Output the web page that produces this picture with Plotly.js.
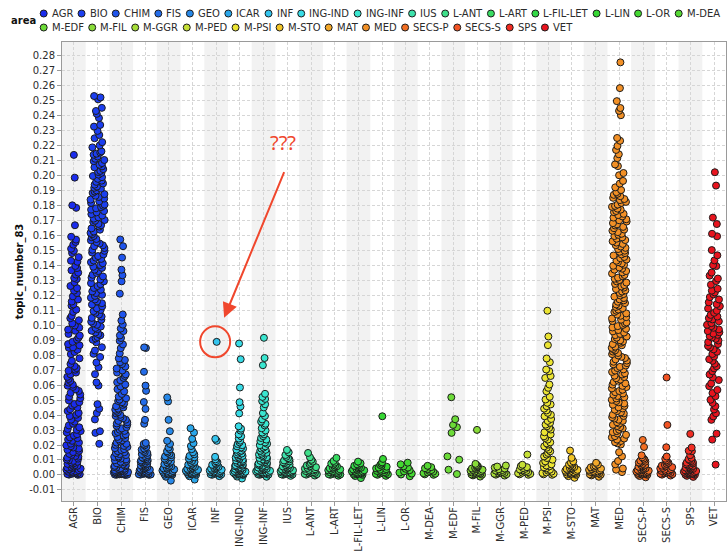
<!DOCTYPE html>
<html>
<head>
<meta charset="utf-8">
<script src="https://cdn.plot.ly/plotly-3.0.1.min.js"></script>
<style>
  html, body { margin: 0; padding: 0; background: #fff; }
  #chart { width: 728px; height: 552px; }
</style>
</head>
<body>
<div id="chart"></div>
<script>
// Scientific areas on the x axis, in display order
const areas = ['AGR','BIO','CHIM','FIS','GEO','ICAR','INF','ING-IND','ING-INF','IUS','L-ANT','L-ART','L-FIL-LET','L-LIN','L-OR','M-DEA','M-EDF','M-FIL','M-GGR','M-PED','M-PSI','M-STO','MAT','MED','SECS-P','SECS-S','SPS','VET'];

const areaColors = ['#1a2ced','#1c3ff0','#1f54ec','#246ce8','#2788e8','#2aa6ea','#33c4ee','#38dbe6','#3ae6d0','#3ee2ac','#3ee08a','#38dc62','#32d946','#36d834','#44d832','#56d834','#6cdb38','#88dc38','#a6de38','#c6e036','#ebe432','#f2c526','#f2a82a','#f29026','#f26e22','#f25424','#f02c22','#e8141e'];

// topic_number_83 per document, grouped by area
const agr = [0.2138,0.1986,0.1801,0.1784,0.1668,0.1591,0.1572,0.1556,0.1538,0.1511,0.1497,0.1482,0.1455,0.1431,0.1424,0.1396,0.1382,0.1367,0.1351,0.1338,0.1316,0.1309,0.1287,0.1262,0.1248,0.1231,0.1215,0.1193,0.1172,0.1158,0.1139,0.1131,0.1104,0.1089,0.1062,0.1047,0.1033,0.1012,0.0998,0.0984,0.0971,0.0963,0.0942,0.0931,0.0917,0.0904,0.0889,0.0874,0.0866,0.0852,0.0849,0.0836,0.0821,0.0807,0.0779,0.0762,0.0741,0.0727,0.0714,0.0703,0.0696,0.0684,0.0672,0.0655,0.0641,0.0628,0.0617,0.0603,0.0596,0.0588,0.0572,0.0561,0.0549,0.0537,0.0522,0.0513,0.0498,0.0486,0.0474,0.0463,0.0451,0.0439,0.0427,0.0414,0.0402,0.0393,0.0381,0.0369,0.0356,0.0342,0.0331,0.0318,0.0307,0.0301,0.0293,0.0284,0.0272,0.0263,0.0251,0.0246,0.0237,0.0228,0.0216,0.0209,0.0198,0.0192,0.0183,0.0176,0.0168,0.0161,0.0153,0.0149,0.0141,0.0134,0.0127,0.0122,0.0116,0.0109,0.0103,0.0098,0.0094,0.0088,0.0083,0.0078,0.0074,0.0069,0.0065,0.0061,0.0057,0.0053,0.0049,0.0046,0.0042,0.0038,0.0035,0.0032,0.0028,0.0025,0.0022,0.0019,0.0016,0.0013,0.0011,0.0008,0.0006,0.0004,0.0002,0.0001];
const bio = [0.2531,0.2522,0.2509,0.2452,0.2431,0.2412,0.2384,0.2338,0.2327,0.2298,0.2271,0.2249,0.2223,0.2201,0.2188,0.2162,0.2154,0.2146,0.2139,0.2127,0.2112,0.2104,0.2096,0.2083,0.2072,0.2061,0.2055,0.2043,0.2031,0.2024,0.2018,0.2006,0.1997,0.1989,0.1978,0.1966,0.1958,0.1947,0.1939,0.1926,0.1918,0.1912,0.1901,0.1893,0.1884,0.1876,0.1865,0.1857,0.1846,0.1839,0.1828,0.1817,0.1806,0.1798,0.1789,0.1781,0.1772,0.1763,0.1754,0.1742,0.1733,0.1721,0.1712,0.1703,0.1698,0.1689,0.1677,0.1668,0.1659,0.1647,0.1638,0.1626,0.1617,0.1608,0.1596,0.1588,0.1576,0.1567,0.1555,0.1546,0.1534,0.1528,0.1516,0.1504,0.1497,0.1485,0.1473,0.1462,0.1451,0.1443,0.1432,0.1421,0.1414,0.1402,0.1391,0.1383,0.1371,0.1362,0.1349,0.1337,0.1326,0.1318,0.1306,0.1293,0.1281,0.1274,0.1262,0.1249,0.1237,0.1226,0.1215,0.1203,0.1196,0.1184,0.1172,0.1159,0.1147,0.1138,0.1126,0.1113,0.1102,0.1094,0.1083,0.1071,0.1058,0.1049,0.1037,0.1024,0.1012,0.1003,0.0991,0.0982,0.0974,0.0963,0.0952,0.0941,0.0933,0.0921,0.0912,0.0903,0.0886,0.0853,0.0831,0.0809,0.0788,0.0751,0.0719,0.0673,0.0618,0.0597,0.0473,0.0442,0.0413,0.0371,0.0292,0.0281,0.0208];
const chim = [0.1573,0.1528,0.1452,0.1371,0.1334,0.1293,0.1211,0.1072,0.1031,0.1004,0.0978,0.0961,0.0932,0.0915,0.0896,0.0872,0.0847,0.0812,0.0779,0.0768,0.0753,0.0741,0.0724,0.0711,0.0698,0.0684,0.0672,0.0661,0.0648,0.0633,0.0619,0.0604,0.0591,0.0573,0.0558,0.0541,0.0523,0.0512,0.0503,0.0494,0.0486,0.0477,0.0468,0.0459,0.0451,0.0443,0.0436,0.0428,0.0419,0.0411,0.0402,0.0394,0.0387,0.0378,0.0369,0.0361,0.0352,0.0344,0.0337,0.0328,0.0319,0.0311,0.0302,0.0294,0.0287,0.0279,0.0271,0.0263,0.0254,0.0246,0.0238,0.0231,0.0223,0.0216,0.0208,0.0201,0.0194,0.0187,0.0179,0.0172,0.0166,0.0159,0.0152,0.0146,0.0139,0.0133,0.0124,0.0121,0.0116,0.0109,0.0104,0.0098,0.0093,0.0088,0.0083,0.0078,0.0074,0.0069,0.0065,0.0061,0.0057,0.0053,0.0049,0.0046,0.0042,0.0039,0.0036,0.0033,0.0031,0.0028,0.0026,0.0023,0.0021,0.0019,0.0017,0.0015,0.0013,0.0011,0.0009,0.0008,0.0006,0.0005,0.0003,0.0002,0.0001,0.0000,0.0004,0.0012,0.0018,0.0024,0.0029];
const fis = [0.0852,0.0848,0.0689,0.0597,0.0562,0.0487,0.0441,0.0368,0.0342,0.0214,0.0207,0.0198,0.0187,0.0176,0.0169,0.0161,0.0152,0.0147,0.0139,0.0133,0.0127,0.0121,0.0116,0.0111,0.0106,0.0101,0.0097,0.0092,0.0088,0.0084,0.0079,0.0075,0.0071,0.0067,0.0063,0.0059,0.0055,0.0052,0.0048,0.0045,0.0041,0.0038,0.0035,0.0032,0.0029,0.0026,0.0023,0.0021,0.0018,0.0015,0.0013,0.0011,0.0009,0.0007,0.0005,0.0003,0.0002,0.0001];
const geo = [0.0518,0.0491,0.0368,0.0292,0.0228,0.0207,0.0183,0.0171,0.0158,0.0149,0.0141,0.0132,0.0124,0.0117,0.0109,0.0102,0.0096,0.0089,0.0083,0.0077,0.0072,0.0066,0.0061,0.0057,0.0052,0.0048,0.0044,0.0041,0.0037,0.0033,0.0029,0.0026,0.0023,0.0019,0.0016,0.0013,0.0011,0.0008,0.0006,0.0004,0.0002,0.0001,-0.0012,-0.0038];
const icar = [0.0312,0.0283,0.0241,0.0212,0.0193,0.0172,0.0151,0.0138,0.0127,0.0118,0.0109,0.0101,0.0094,0.0087,0.0081,0.0075,0.0069,0.0064,0.0059,0.0054,0.0049,0.0045,0.0041,0.0037,0.0034,0.0031,0.0028,0.0025,0.0022,0.0019,0.0017,0.0014,0.0012,0.0009,0.0007,0.0005,0.0003,0.0001,-0.0009,-0.0031];
const infOutlier = 0.0889;
const inf = [infOutlier,0.0241,0.0228,0.0121,0.0104,0.0092,0.0085,0.0079,0.0073,0.0068,0.0063,0.0058,0.0054,0.0049,0.0046,0.0042,0.0039,0.0035,0.0032,0.0029,0.0026,0.0023,0.0021,0.0018,0.0016,0.0013,0.0011,0.0009,0.0007,0.0005,0.0003,0.0001,-0.0008];
const ingInd = [0.0878,0.0773,0.0584,0.0486,0.0457,0.0411,0.0325,0.0309,0.0296,0.0271,0.0258,0.0243,0.0229,0.0218,0.0207,0.0199,0.0191,0.0184,0.0176,0.0169,0.0162,0.0156,0.0149,0.0143,0.0138,0.0132,0.0127,0.0121,0.0116,0.0111,0.0106,0.0102,0.0097,0.0093,0.0089,0.0085,0.0081,0.0077,0.0073,0.0069,0.0066,0.0062,0.0059,0.0056,0.0052,0.0049,0.0046,0.0043,0.0041,0.0038,0.0035,0.0033,0.0031,0.0028,0.0026,0.0024,0.0022,0.0019,0.0017,0.0015,0.0013,0.0011,0.0009,0.0008,0.0006,0.0004,0.0003,0.0002,0.0001,0.0000,-0.0011,-0.0024];
const ingInf = [0.0916,0.0781,0.0733,0.0542,0.0521,0.0508,0.0493,0.0472,0.0451,0.0413,0.0394,0.0371,0.0356,0.0342,0.0331,0.0312,0.0297,0.0283,0.0271,0.0259,0.0247,0.0236,0.0226,0.0217,0.0208,0.0199,0.0191,0.0183,0.0176,0.0168,0.0161,0.0154,0.0148,0.0142,0.0136,0.0129,0.0124,0.0118,0.0113,0.0108,0.0103,0.0098,0.0094,0.0089,0.0085,0.0081,0.0077,0.0073,0.0069,0.0066,0.0062,0.0059,0.0055,0.0052,0.0049,0.0046,0.0043,0.0041,0.0038,0.0035,0.0033,0.0031,0.0028,0.0026,0.0024,0.0021,0.0019,0.0017,0.0015,0.0013,0.0011,0.0009,0.0007,0.0005,0.0004,0.0002,0.0001,-0.0012];
const ius = [0.0167,0.0151,0.0133,0.0121,0.0112,0.0104,0.0097,0.0091,0.0085,0.0079,0.0074,0.0069,0.0065,0.0061,0.0057,0.0053,0.0049,0.0046,0.0043,0.0039,0.0036,0.0033,0.0031,0.0028,0.0025,0.0023,0.0021,0.0018,0.0016,0.0014,0.0012,0.0010,0.0008,0.0006,0.0004,0.0003,0.0001,-0.0006];
const lAnt = [0.0147,0.0118,0.0101,0.0089,0.0079,0.0071,0.0064,0.0058,0.0052,0.0047,0.0042,0.0038,0.0034,0.0030,0.0026,0.0023,0.0019,0.0016,0.0013,0.0010,0.0007,0.0005,0.0002,-0.0004];
const lArt = [0.0114,0.0093,0.0082,0.0076,0.0069,0.0063,0.0058,0.0053,0.0049,0.0045,0.0041,0.0037,0.0034,0.0031,0.0028,0.0025,0.0022,0.0019,0.0017,0.0014,0.0012,0.0009,0.0007,0.0005,0.0003,0.0001,-0.0005];
const lFilLet = [0.0089,0.0078,0.0071,0.0066,0.0061,0.0056,0.0052,0.0048,0.0044,0.0041,0.0037,0.0034,0.0031,0.0028,0.0025,0.0023,0.0020,0.0018,0.0015,0.0013,0.0011,0.0009,0.0007,0.0005,0.0003,0.0001,-0.0007,-0.0021];
const lLin = [0.0392,0.0107,0.0084,0.0075,0.0067,0.0061,0.0055,0.0049,0.0044,0.0039,0.0035,0.0031,0.0027,0.0023,0.0019,0.0016,0.0013,0.0010,0.0007,0.0004,0.0001,-0.0006];
const lOr = [0.0082,0.0071,0.0058,0.0049,0.0041,0.0032,0.0024,0.0016,0.0009,0.0003,-0.0009];
const mDea = [0.0061,0.0052,0.0045,0.0039,0.0033,0.0027,0.0022,0.0017,0.0012,0.0008,0.0004,0.0001];
const mEdf = [0.0519,0.0372,0.0334,0.0319,0.0281,0.0124,0.0102,0.0035,0.0006];
const mFil = [0.0301,0.0074,0.0066,0.0061,0.0056,0.0051,0.0047,0.0043,0.0039,0.0035,0.0032,0.0029,0.0026,0.0023,0.0020,0.0017,0.0015,0.0012,0.0010,0.0008,0.0006,0.0004,0.0002,-0.0003,-0.0011];
const mGgr = [0.0063,0.0056,0.0049,0.0043,0.0038,0.0033,0.0029,0.0025,0.0021,0.0017,0.0014,0.0011,0.0008,0.0005,0.0002,-0.0004];
const mPed = [0.0136,0.0068,0.0059,0.0052,0.0046,0.0041,0.0036,0.0031,0.0027,0.0023,0.0019,0.0015,0.0011,0.0007,0.0004,0.0001];
const mPsi = [0.1097,0.0925,0.0867,0.0778,0.0753,0.0704,0.0693,0.0661,0.0648,0.0604,0.0582,0.0559,0.0522,0.0504,0.0482,0.0471,0.0459,0.0443,0.0431,0.0415,0.0402,0.0392,0.0374,0.0361,0.0348,0.0336,0.0325,0.0314,0.0303,0.0285,0.0271,0.0258,0.0247,0.0236,0.0218,0.0211,0.0203,0.0191,0.0182,0.0169,0.0158,0.0147,0.0136,0.0124,0.0113,0.0102,0.0091,0.0080,0.0071,0.0063,0.0058,0.0051,0.0044,0.0035,0.0029,0.0022,0.0017,0.0013,0.0008,0.0004,0.0001];
const mSto = [0.0163,0.0114,0.0091,0.0082,0.0075,0.0069,0.0063,0.0058,0.0053,0.0049,0.0045,0.0041,0.0037,0.0034,0.0031,0.0028,0.0025,0.0022,0.0019,0.0017,0.0014,0.0012,0.0009,0.0007,0.0005,0.0003,0.0001,-0.0008,-0.0019];
const mat = [0.0081,0.0069,0.0062,0.0056,0.0051,0.0046,0.0042,0.0038,0.0034,0.0031,0.0027,0.0024,0.0021,0.0018,0.0015,0.0012,0.0009,0.0007,0.0004,0.0002,-0.0003,-0.0012];
const med = [0.2756,0.2584,0.2497,0.2451,0.2432,0.2403,0.2251,0.2232,0.2198,0.2171,0.2142,0.2116,0.2074,0.2063,0.2017,0.2002,0.1964,0.1946,0.1921,0.1903,0.1889,0.1878,0.1871,0.1862,0.1851,0.1843,0.1836,0.1824,0.1817,0.1806,0.1797,0.1791,0.1779,0.1772,0.1763,0.1755,0.1744,0.1736,0.1727,0.1719,0.1708,0.1701,0.1693,0.1682,0.1674,0.1666,0.1657,0.1648,0.1639,0.1631,0.1622,0.1611,0.1604,0.1596,0.1587,0.1578,0.1569,0.1561,0.1552,0.1543,0.1535,0.1526,0.1517,0.1509,0.1498,0.1491,0.1482,0.1473,0.1466,0.1456,0.1448,0.1439,0.1431,0.1421,0.1413,0.1404,0.1397,0.1386,0.1378,0.1371,0.1362,0.1353,0.1345,0.1336,0.1327,0.1318,0.1311,0.1302,0.1293,0.1285,0.1276,0.1268,0.1259,0.1251,0.1242,0.1233,0.1225,0.1216,0.1208,0.1199,0.1191,0.1182,0.1173,0.1166,0.1157,0.1148,0.1139,0.1131,0.1122,0.1114,0.1105,0.1097,0.1088,0.1079,0.1071,0.1063,0.1054,0.1045,0.1037,0.1028,0.1019,0.1011,0.1002,0.0994,0.0985,0.0976,0.0968,0.0959,0.0951,0.0942,0.0934,0.0925,0.0917,0.0908,0.0899,0.0891,0.0883,0.0874,0.0866,0.0857,0.0849,0.0841,0.0832,0.0824,0.0815,0.0807,0.0798,0.0789,0.0781,0.0772,0.0764,0.0756,0.0747,0.0739,0.0731,0.0722,0.0714,0.0705,0.0697,0.0688,0.0679,0.0671,0.0663,0.0654,0.0646,0.0637,0.0629,0.0621,0.0612,0.0603,0.0595,0.0587,0.0578,0.0569,0.0561,0.0553,0.0544,0.0536,0.0527,0.0519,0.0511,0.0502,0.0494,0.0485,0.0477,0.0469,0.0461,0.0452,0.0444,0.0436,0.0427,0.0418,0.0411,0.0402,0.0394,0.0386,0.0377,0.0369,0.0361,0.0352,0.0343,0.0335,0.0327,0.0319,0.0311,0.0302,0.0293,0.0286,0.0277,0.0268,0.0259,0.0251,0.0243,0.0236,0.0227,0.0219,0.0211,0.0203,0.0152,0.0124,0.0093,0.0071,0.0043,0.0035,0.0019];
const secsP = [0.0234,0.0187,0.0131,0.0118,0.0109,0.0101,0.0095,0.0089,0.0083,0.0078,0.0073,0.0068,0.0064,0.0059,0.0055,0.0051,0.0047,0.0044,0.0041,0.0037,0.0034,0.0031,0.0028,0.0026,0.0023,0.0021,0.0018,0.0016,0.0014,0.0012,0.0010,0.0008,0.0006,0.0004,0.0002,0.0001,-0.0007,-0.0016];
const secsS = [0.0651,0.0334,0.0185,0.0123,0.0108,0.0097,0.0088,0.0081,0.0074,0.0068,0.0062,0.0057,0.0052,0.0047,0.0043,0.0039,0.0035,0.0031,0.0027,0.0024,0.0021,0.0017,0.0014,0.0011,0.0008,0.0005,0.0002,-0.0004];
const sps = [0.0274,0.0183,0.0162,0.0158,0.0132,0.0114,0.0106,0.0099,0.0093,0.0087,0.0082,0.0077,0.0072,0.0068,0.0064,0.0060,0.0056,0.0052,0.0049,0.0046,0.0043,0.0040,0.0037,0.0034,0.0031,0.0029,0.0026,0.0024,0.0021,0.0019,0.0017,0.0015,0.0013,0.0011,0.0009,0.0007,0.0005,0.0003,0.0002,0.0001,-0.0006,-0.0013];
const vet = [0.2022,0.1933,0.1719,0.1676,0.1611,0.1594,0.1502,0.1467,0.1433,0.1401,0.1395,0.1352,0.1331,0.1312,0.1295,0.1271,0.1244,0.1231,0.1219,0.1206,0.1188,0.1172,0.1153,0.1141,0.1127,0.1112,0.1097,0.1083,0.1069,0.1058,0.1047,0.1039,0.1026,0.1014,0.1003,0.0994,0.0983,0.0972,0.0961,0.0953,0.0944,0.0936,0.0927,0.0918,0.0909,0.0898,0.0887,0.0874,0.0862,0.0851,0.0839,0.0823,0.0808,0.0791,0.0773,0.0762,0.0743,0.0726,0.0712,0.0693,0.0671,0.0652,0.0634,0.0611,0.0593,0.0568,0.0547,0.0526,0.0502,0.0481,0.0459,0.0437,0.0412,0.0391,0.0368,0.0276,0.0236,0.0069];

const areaValues = [agr, bio, chim, fis, geo, icar, inf, ingInd, ingInf, ius, lAnt, lArt, lFilLet, lLin, lOr, mDea, mEdf, mFil, mGgr, mPed, mPsi, mSto, mat, med, secsP, secsS, sps, vet];

const yTickVals = [-0.01,0.00,0.01,0.02,0.03,0.04,0.05,0.06,0.07,0.08,0.09,0.10,0.11,0.12,0.13,0.14,0.15,0.16,0.17,0.18,0.19,0.20,0.21,0.22,0.23,0.24,0.25,0.26,0.27,0.28];

// ---- page geometry ----
const W = 728, H = 552;
const M = { l: 62, r: 2, t: 42, b: 51 };
const plotW = W - M.l - M.r, plotH = H - M.t - M.b;
const paperX = px => (px - M.l) / plotW;
const paperY = py => (H - M.b - py) / plotH;

const FONT = '"DejaVu Sans", "Liberation Sans", sans-serif';
const textCol = '#2b2b2b';
const gridCol = '#d6d6d6';
const frameCol = '#9a9a9a';
const noteRed = '#f0472d';

// one strip (jittered points) per area
const traces = areas.map((name, i) => ({
  type: 'box',
  name: name,
  x: areaValues[i].map(() => name),
  y: areaValues[i],
  boxpoints: 'all',
  jitter: 1,
  pointpos: 0,
  fillcolor: 'rgba(0,0,0,0)',
  line: { width: 0, color: 'rgba(0,0,0,0)' },
  marker: { color: areaColors[i], size: 7, opacity: 1, line: { color: '#1c1c1c', width: 1 } },
  hoverinfo: 'skip',
  showlegend: false
}));

// alternating background bands
const shapes = [];
areas.forEach((_, i) => {
  if (i % 2 === 0) {
    shapes.push({ type: 'rect', xref: 'x', yref: 'paper', x0: i - 0.5, x1: i + 0.5, y0: 0, y1: 1,
      fillcolor: '#f2f2f2', line: { width: 0 }, layer: 'below' });
  }
});

// highlighted INF document
const infIndex = areas.indexOf('INF');
shapes.push({ type: 'circle', xref: 'x', yref: 'y',
  xsizemode: 'pixel', xanchor: infIndex, x0: -16, x1: 14,
  ysizemode: 'pixel', yanchor: infOutlier, y0: -15.5, y1: 15.5,
  line: { color: noteRed, width: 2 }, fillcolor: 'rgba(0,0,0,0)', layer: 'above' });

const annotations = [
  { x: infIndex, y: infOutlier, xref: 'x', yref: 'y', xshift: 67, yshift: 199,
    text: '???', showarrow: false, xanchor: 'center', yanchor: 'middle',
    font: { family: '"Noto Sans", ' + FONT, size: 20, color: noteRed } },
  { x: infIndex, y: infOutlier, xref: 'x', yref: 'y', xshift: 8, yshift: 24,
    text: ' ', showarrow: true, ax: 63, ay: -153, axref: 'pixel', ayref: 'pixel',
    arrowhead: 2, arrowsize: 1.5, arrowwidth: 2, arrowcolor: noteRed, standoff: 0, startstandoff: 0 }
];

// legend: title plus two rows of swatches
const ctx = document.createElement('canvas').getContext('2d');
ctx.font = '10px ' + FONT;
annotations.push({ xref: 'paper', yref: 'paper', x: paperX(9), y: paperY(20.5),
  xanchor: 'left', yanchor: 'middle', showarrow: false, text: 'area',
  font: { family: FONT, size: 10, color: '#111', weight: 'bold' } });
const rowBreak = 16;
const rowY = [13.5, 27.5];
let cx = 43.7;
areas.forEach((name, i) => {
  if (i === rowBreak) cx = 43.7;
  const cy = rowY[i < rowBreak ? 0 : 1];
  shapes.push({ type: 'circle', xref: 'paper', yref: 'paper',
    xsizemode: 'pixel', xanchor: paperX(cx), x0: -3.5, x1: 3.5,
    ysizemode: 'pixel', yanchor: paperY(cy), y0: -3.5, y1: 3.5,
    fillcolor: areaColors[i], line: { color: '#1c1c1c', width: 1 }, layer: 'above' });
  annotations.push({ xref: 'paper', yref: 'paper', x: paperX(cx + 6), y: paperY(cy),
    xanchor: 'left', yanchor: 'middle', showarrow: false, text: name,
    font: { family: FONT, size: 10, color: textCol } });
  cx += 7 + ctx.measureText(name).width + 9.5;
});

const axisCommon = {
  showgrid: true, gridcolor: gridCol, gridwidth: 1, griddash: '3px,2px',
  showline: true, linecolor: frameCol, linewidth: 1, mirror: true,
  ticks: 'outside', ticklen: 4, tickcolor: frameCol,
  tickfont: { family: FONT, size: 10, color: textCol },
  zeroline: false, automargin: false, fixedrange: true
};

const layout = {
  width: W, height: H,
  margin: { l: M.l, r: M.r, t: M.t, b: M.b, pad: 0, autoexpand: false },
  paper_bgcolor: '#ffffff', plot_bgcolor: '#ffffff',
  showlegend: false, hovermode: false,
  boxmode: 'overlay', boxgap: 0.08,
  xaxis: Object.assign({}, axisCommon, {
    type: 'category', categoryorder: 'array', categoryarray: areas,
    range: [-0.5, areas.length - 0.5], tickangle: -90, ticklabelstandoff: -3
  }),
  yaxis: Object.assign({}, axisCommon, {
    range: [-0.0174, 0.2892],
    tickmode: 'array', tickvals: yTickVals, ticktext: yTickVals.map(v => v.toFixed(2)),
    title: { text: 'topic_number_83', standoff: 3,
      font: { family: FONT, size: 10, color: '#111', weight: 'bold' } }
  }),
  shapes: shapes,
  annotations: annotations
};

Plotly.newPlot('chart', traces, layout, { staticPlot: true, displayModeBar: false });
</script>
</body>
</html>
